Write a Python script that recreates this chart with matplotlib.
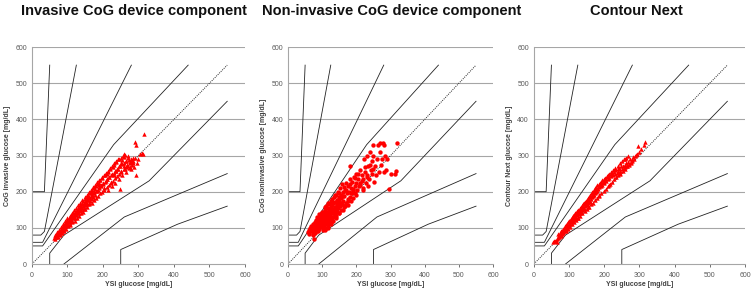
import matplotlib
matplotlib.use("Agg")
import matplotlib.pyplot as plt

plt.rcParams['font.family'] = ['Liberation Sans', 'DejaVu Sans']

titles = ["Invasive CoG device component", "Non-invasive CoG device component", "Contour Next"]
ylabels = ["CoG invasive glucose [mg/dL]", "CoG noninvasive glucose [mg/dL]", "Contour Next glucose [mg/dL]"]
xlabel = "YSI glucose [mg/dL]"
ticks = [0, 100, 200, 300, 400, 500, 600]

# Parkes (consensus) error grid, type 2 diabetes, zone boundaries
zone_lines = [
    [(0, 50), (30, 50), (230, 330), (440, 550)],
    [(50, 0), (50, 30), (90, 80), (330, 230), (550, 450)],
    [(0, 60), (30, 60), (280, 550)],
    [(90, 0), (260, 130), (550, 250)],
    [(0, 80), (25, 80), (35, 90), (125, 550)],
    [(250, 0), (250, 40), (410, 110), (550, 160)],
    [(0, 200), (35, 200), (50, 550)],
]
identity = [(0, 0), (550, 550)]

# Panel 1: invasive CoG
inv_x = [62, 65, 68, 70, 72, 75, 76, 78, 80, 80, 82, 84, 85, 86, 88, 90, 90, 92, 94, 95, 96, 98, 100, 100,
         102, 104, 105, 106, 108, 110, 110, 112, 114, 115, 116, 118, 120, 120, 122, 124, 125, 126, 128, 130, 130,
         132, 134, 135, 136, 138, 140, 140, 142, 144, 145, 146, 148, 150, 150, 152, 154, 155, 156, 158, 160, 160,
         162, 164, 165, 166, 168, 170, 170, 172, 174, 175, 178, 180, 180, 183, 185, 188, 190, 192, 195, 198, 200,
         202, 205, 208, 210, 212, 215, 218, 220, 222, 225, 228, 230, 232, 235, 238, 240, 242, 245, 248, 250, 252,
         255, 258, 260, 262, 265, 268, 270, 272, 275, 278, 280, 283, 285, 288, 290, 292, 294, 296, 300, 305, 310,
         314, 316, 86, 96, 108, 118, 128, 138, 148, 158, 168, 178, 188,
         66, 72, 78, 84, 90, 96, 102, 108, 114, 120, 126, 132, 138, 144, 150, 156, 162, 168, 174, 180, 186, 192,
         198, 204, 210, 216, 222, 228, 234, 240, 246, 252, 258, 264, 270, 276, 282,
         64, 70, 76, 82, 88, 94, 100, 106, 112, 118, 124, 130, 136, 142, 148, 154, 160, 166, 172, 178, 184, 190,
         196, 202, 208, 214, 220, 226, 232, 238, 244, 250, 256, 262,
         68, 74, 80, 86, 92, 98, 104, 110, 116, 122, 128, 134, 140, 146, 152, 158, 164, 170, 176, 182, 188, 194,
         200, 206, 212, 218, 224, 230, 236, 242, 248, 254, 260, 266, 272, 278, 284, 290,
         255, 265, 275, 285, 270, 260, 245, 235, 225, 215]
inv_y = [72, 75, 80, 78, 85, 82, 90, 88, 92, 85, 95, 100, 92, 105, 98, 108, 100, 112, 104, 115, 108, 118, 110, 122,
         115, 128, 120, 112, 130, 122, 135, 118, 132, 126, 140, 130, 138, 128, 145, 135, 142, 150, 140, 148, 155,
         142, 158, 150, 162, 148, 165, 155, 170, 160, 175, 152, 168, 180, 162, 172, 185, 165, 178, 190, 170, 182,
         195, 175, 188, 200, 180, 192, 205, 185, 210, 198, 190, 215, 202, 220, 205, 225, 212, 232, 218, 240, 225,
         210, 245, 230, 250, 235, 255, 240, 262, 228, 250, 268, 245, 275, 258, 282, 262, 290, 270, 208, 280, 258,
         288, 270, 295, 262, 285, 275, 292, 265, 282, 290, 262, 275, 292, 268, 338, 330, 245, 280, 290, 305, 308,
         304, 360, 95, 112, 118, 136, 146, 160, 172, 184, 196, 208, 218,
         68, 74, 80, 86, 92, 97, 104, 108, 116, 120, 127, 132, 140, 145, 152, 157, 165, 170, 176, 182, 188, 195,
         200, 206, 214, 218, 225, 230, 238, 244, 250, 255, 262, 268, 272, 280, 285,
         80, 88, 95, 102, 110, 118, 126, 132, 140, 148, 155, 162, 168, 176, 184, 190, 198, 205, 212, 218, 226, 232,
         238, 246, 252, 258, 265, 272, 278, 284, 290, 294, 298, 302,
         76, 84, 90, 97, 104, 110, 117, 124, 130, 137, 143, 150, 156, 163, 170, 176, 183, 189, 196, 202, 209, 215,
         221, 228, 234, 240, 246, 252, 258, 264, 272, 276, 280, 284, 288, 282, 286, 292,
         245, 255, 268, 278, 300, 305, 235, 225, 215, 205]

# Panel 2: non-invasive CoG
non_x = [70, 72, 74, 75, 76, 78, 80, 80, 82, 84, 85, 86, 88, 88, 90, 90, 92, 93, 94, 95, 96, 97, 98, 99, 100, 100,
         101, 102, 103, 104, 105, 105, 106, 107, 108, 109, 110, 110, 111, 112, 112, 113, 114, 115, 116, 117, 118,
         119, 120, 120, 121, 122, 123, 124, 125, 125, 126, 127, 128, 129, 130, 130, 131, 132, 133, 134, 135, 136,
         137, 138, 139, 140, 140, 142, 143, 144, 145, 146, 147, 148, 150, 150, 152, 153, 154, 155, 156, 157, 158,
         160, 160, 162, 163, 165, 166, 168, 170, 170, 172, 174, 175, 176, 178, 180, 180, 182, 183, 185, 186, 188,
         190, 190, 192, 195, 196, 198, 200, 202, 205, 208, 210, 212, 215, 218, 220, 222, 225, 228, 230, 232, 235,
         238, 240, 242, 245, 248, 250, 252, 255, 258, 260, 262, 265, 268, 270, 272, 275, 278, 280, 282, 285, 288,
         290, 295, 300, 315, 318, 312, 95, 105, 115, 125, 135, 108, 118, 128, 98, 88,
         58, 60, 62, 64, 66, 68, 70, 72, 74, 76, 78, 80, 82, 84, 86, 88, 90, 92, 94, 96, 98, 100, 102, 104, 106,
         108, 110, 112, 114, 116, 118, 120, 122, 124, 126, 128, 130, 132, 134, 136, 138, 140, 142, 144, 146, 148,
         150, 155, 160, 165, 170, 175, 180, 185, 190, 195, 200, 205, 210, 215, 220, 225, 230, 235, 240, 245, 250]
non_y = [90, 80, 98, 70, 88, 95, 102, 85, 110, 92, 100, 118, 105, 90, 112, 125, 98, 108, 130, 115, 102, 122, 135,
         110, 118, 128, 95, 140, 112, 125, 105, 135, 118, 150, 128, 110, 140, 120, 132, 100, 160, 125, 145, 115,
         135, 155, 125, 142, 110, 165, 130, 148, 120, 138, 175, 155, 128, 145, 162, 118, 140, 180, 152, 130, 168,
         145, 185, 158, 135, 172, 150, 190, 128, 162, 178, 145, 200, 168, 155, 185, 140, 175, 210, 160, 192, 150,
         182, 220, 165, 198, 148, 175, 212, 188, 160, 205, 170, 225, 195, 180, 215, 162, 200, 235, 185, 272, 210,
         175, 195, 228, 205, 182, 240, 215, 195, 250, 225, 205, 235, 215, 260, 225, 245, 210, 235, 290, 255, 225,
         300, 245, 270, 235, 310, 260, 285, 330, 300, 228, 270, 245, 290, 330, 255, 310, 335, 275, 290, 335, 255,
         330, 300, 260, 290, 208, 250, 258, 335, 250, 125, 145, 130, 110, 150, 95, 100, 118, 140, 120,
         88, 95, 82, 100, 90, 105, 96, 110, 84, 102, 115, 95, 122, 108, 130, 98, 118, 138, 105, 126, 112, 145, 120,
         100, 132, 158, 115, 140, 125, 168, 108, 148, 120, 135, 158, 128, 172, 118, 150, 140, 192, 132, 165, 155,
         178, 142, 195, 170, 188, 158, 205, 175, 220, 195, 208, 238, 192, 250, 218, 230, 205, 268, 240, 215, 275,
         250, 262]

# Panel 3: Contour Next
cn_x = [55, 58, 60, 62, 65, 66, 68, 70, 72, 74, 75, 76, 78, 80, 80, 82, 84, 85, 86, 88, 90, 90, 92, 94, 95, 96, 98,
        100, 100, 102, 104, 105, 106, 108, 110, 110, 112, 114, 115, 116, 118, 120, 120, 122, 124, 125, 126, 128,
        130, 130, 132, 134, 135, 136, 138, 140, 140, 142, 144, 145, 146, 148, 150, 150, 152, 154, 155, 156, 158,
        160, 160, 162, 164, 165, 166, 168, 170, 170, 172, 174, 175, 176, 178, 180, 180, 183, 185, 186, 188, 190,
        192, 194, 195, 198, 200, 200, 203, 205, 208, 210, 212, 215, 218, 220, 222, 225, 228, 230, 232, 235, 238,
        240, 242, 245, 248, 250, 252, 255, 258, 260, 262, 265, 268, 270, 272, 275, 278, 280, 282, 285, 288, 292,
        295, 290, 300, 305, 316, 312,
        72, 78, 84, 90, 96, 102, 108, 114, 120, 126, 132, 138, 144, 150, 156, 162, 168, 174, 180, 186, 192, 198,
        204, 210, 216, 222, 228, 234, 240, 246, 252, 258, 264, 270, 276,
        70, 76, 82, 88, 94, 100, 106, 112, 118, 124, 130, 136, 142, 148, 154, 160, 166, 172, 178, 184, 190, 196,
        202, 208, 214, 220, 226, 232, 238, 244, 250, 256, 262, 268,
        110, 140, 170, 200, 230, 260, 125, 155, 185, 215, 245]
cn_y = [62, 64, 63, 65, 62, 68, 72, 75, 78, 80, 85, 78, 88, 82, 92, 95, 88, 98, 92, 100, 95, 105, 108, 100, 112, 105,
        115, 108, 118, 112, 120, 115, 125, 118, 128, 120, 132, 125, 135, 128, 138, 130, 142, 135, 145, 138, 148,
        140, 150, 142, 155, 145, 158, 150, 160, 152, 165, 155, 168, 160, 172, 162, 175, 165, 178, 168, 182, 172,
        185, 175, 190, 180, 192, 185, 198, 188, 200, 192, 205, 195, 210, 198, 212, 202, 218, 208, 220, 212, 225,
        215, 228, 218, 232, 225, 235, 228, 238, 230, 242, 235, 245, 238, 250, 242, 252, 245, 255, 250, 260, 252,
        262, 255, 265, 258, 270, 262, 272, 265, 275, 268, 280, 272, 282, 275, 290, 280, 288, 285, 295, 290, 300,
        305, 325, 302, 310, 318, 338, 330,
        74, 80, 85, 92, 97, 103, 110, 116, 121, 128, 134, 140, 146, 152, 158, 165, 170, 176, 183, 190, 196, 203,
        208, 215, 222, 228, 234, 240, 246, 252, 258, 264, 270, 276, 282,
        82, 90, 97, 104, 111, 118, 125, 132, 140, 146, 153, 160, 168, 175, 181, 188, 195, 202, 208, 215, 222, 228,
        235, 241, 248, 254, 260, 266, 272, 278, 284, 290, 294, 298,
        134, 166, 202, 232, 262, 290, 128, 158, 188, 218, 250]

data = [(inv_x, inv_y, "^"), (non_x, non_y, "o"), (cn_x, cn_y, "^")]

fig = plt.figure(figsize=(7.54, 2.94), dpi=100)
positions = [(0.0424, 0.102, 0.2825, 0.738), (0.382, 0.102, 0.272, 0.738), (0.708, 0.102, 0.280, 0.738)]
title_x = [0.177, 0.52, 0.844]

grid_col = "#a6a6a6"
for i, (pos, (xs, ys, mk)) in enumerate(zip(positions, data)):
    ax = fig.add_axes(pos)
    ax.set_xlim(0, 600)
    ax.set_ylim(0, 600)
    for t in ticks[1:]:
        ax.axhline(t, color=grid_col, lw=0.8, zorder=0)
    for line in zone_lines:
        lx, ly = zip(*line)
        ax.plot(lx, ly, color="#222222", lw=0.6, zorder=1)
    ix, iy = zip(*identity)
    ax.plot(ix, iy, color="#222222", lw=0.7, ls=(0, (1, 1.2)), zorder=1)
    ax.scatter(xs, ys, marker=mk, s=10, color="#ff0000", linewidths=0, zorder=3)
    ax.set_xticks(ticks)
    ax.set_yticks(ticks)
    ax.tick_params(axis="both", labelsize=5, colors="#595959", length=2, width=0.6)
    ax.tick_params(axis="y", length=0)
    for s in ["top", "right"]:
        ax.spines[s].set_visible(False)
    for s in ["left", "bottom"]:
        ax.spines[s].set_color(grid_col)
        ax.spines[s].set_linewidth(0.8)
    ax.set_xlabel(xlabel, fontsize=5, color="#404040", labelpad=2, fontweight="bold")
    ax.set_ylabel(ylabels[i], fontsize=5, color="#404040", labelpad=3, fontweight="bold")
    fig.text(title_x[i], 0.962, titles[i], ha="center", va="center", fontsize=10.5,
             fontweight="bold", color="#111111")

fig.savefig("out.png", dpi=100)
